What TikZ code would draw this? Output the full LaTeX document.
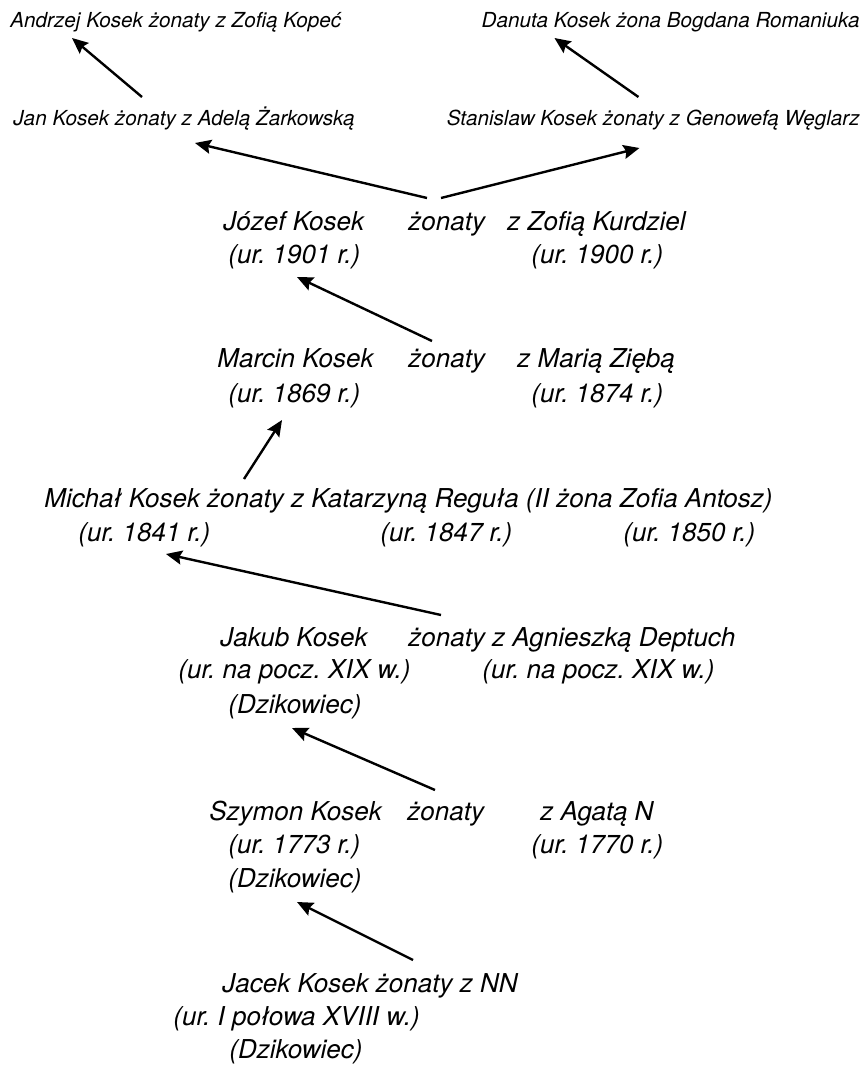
\documentclass[tikz,border=0pt]{standalone}
\usepackage{fontspec}
\setmainfont{TeX Gyre Heros}
\usetikzlibrary{arrows.meta}
\frenchspacing

\begin{document}
\begin{tikzpicture}[x=0.5pt, y=-0.5pt,
    osoba/.style={anchor=base west, inner sep=0pt,
      font=\fontsize{13}{15}\selectfont\itshape},
    wnuk/.style={osoba, font=\fontsize{10.35}{12}\selectfont\itshape},
    pil/.style={-{Stealth[length=8pt, width=7pt, inset=1.2pt]}, line width=1.2pt}]
  \useasboundingbox (0,0) rectangle (863,1066);

  %% Wnuki
  \node[wnuk] (andrzej) at (10,27) {Andrzej Kosek żonaty z Zofią Kopeć};
  \node[wnuk, anchor=base east] (danuta) at (860,27) {Danuta Kosek żona Bogdana Romaniuka};

  %% Synowie Józefa
  \node[wnuk] (jan) at (13,125) {Jan Kosek żonaty z Adelą Żarkowską};
  \node[wnuk, anchor=base east] (stan) at (860,125) {Stanislaw Kosek żonaty z Genowefą Węglarz};

  %% Józef
  \node[osoba] (jozef) at (223,230) {Józef Kosek};
  \node[osoba] (zon1) at (408,230) {żonaty};
  \node[osoba] (zofia) at (507,230) {z Zofią Kurdziel};
  \node[osoba] (ur1901) at (228,263) {(ur. 1901 r.)};
  \node[osoba] (ur1900) at (531,263) {(ur. 1900 r.)};

  %% Marcin
  \node[osoba] (marcin) at (217,367) {Marcin Kosek};
  \node[osoba] (zon2) at (408,367) {żonaty};
  \node[osoba] (maria) at (517,367) {z Marią Ziębą};
  \node[osoba] (ur1869) at (228,402) {(ur. 1869 r.)};
  \node[osoba] (ur1874) at (531,402) {(ur. 1874 r.)};

  %% Michał
  \node[osoba] (michal) at (44,507) {Michał Kosek żonaty z Katarzyną Reguła (II żona Zofia Antosz)};
  \node[osoba] (ur1841) at (78,541) {(ur. 1841 r.)};
  \node[osoba] (ur1847) at (380,541) {(ur. 1847 r.)};
  \node[osoba] (ur1850) at (623,541) {(ur. 1850 r.)};

  %% Jakub
  \node[osoba] (jakub) at (220,646) {Jakub Kosek};
  \node[osoba] (agn) at (408,646) {żonaty z Agnieszką Deptuch};
  \node[osoba] (urj1) at (178,678) {(ur. na pocz. XIX w.)};
  \node[osoba] (urj2) at (482,678) {(ur. na pocz. XIX w.)};
  \node[osoba] (dzik1) at (228,713) {(Dzikowiec)};

  %% Szymon
  \node[osoba] (szymon) at (209,820) {Szymon Kosek};
  \node[osoba] (zon3) at (407,820) {żonaty};
  \node[osoba] (agata) at (540,820) {z Agatą N};
  \node[osoba] (ur1773) at (228,853) {(ur. 1773 r.)};
  \node[osoba] (ur1770) at (531,853) {(ur. 1770 r.)};
  \node[osoba] (dzik2) at (228,887) {(Dzikowiec)};

  %% Jacek
  \node[osoba] (jacek) at (222,992) {Jacek Kosek żonaty z NN};
  \node[osoba] (urI) at (173,1025) {(ur. I połowa XVIII w.)};
  \node[osoba] (dzik3) at (229,1058) {(Dzikowiec)};

  %% Strzałki: od przodka do potomka
  \draw[pil] ([shift={(191,-32)}]jacek.base west) -- ([shift={(69,15)}]dzik2.base west);
  \draw[pil] ([shift={(28,-30)}]zon3.base west) -- ([shift={(64,15)}]dzik1.base west);
  \draw[pil] ([shift={(33,-31)}]agn.base west) -- ([shift={(88,13)}]ur1841.base west);
  \draw[pil] ([shift={(200,-28)}]michal.base west) -- ([shift={(54,18)}]ur1869.base west);
  \draw[pil] ([shift={(24,-26)}]zon2.base west) -- ([shift={(69,14)}]ur1901.base west);
  \draw[pil] ([shift={(19,-32)}]zon1.base west) -- ([shift={(182,18)}]jan.base west);
  \draw[pil] ([shift={(33,-32)}]zon1.base west) -- ([shift={(193,23)}]stan.base west);
  \draw[pil] ([shift={(129,-28)}]jan.base west) -- ([shift={(62,11)}]andrzej.base west);
  \draw[pil] ([shift={(192,-28)}]stan.base west) -- ([shift={(108,11)}]stan.base west |- danuta.base);
\end{tikzpicture}
\end{document}
